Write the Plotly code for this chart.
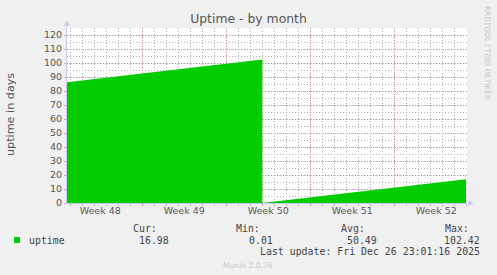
import plotly.graph_objects as go

# ---- data ----
times = ["2025-11-23 17:30", "2025-12-10 00:00", "2025-12-10 00:01",
         "2025-12-10 08:00", "2025-12-26 23:30"]
uptime = [86.2, 102.42, 0.01, 0.3, 16.98]

x_range = ["2025-11-23 17:30", "2025-12-27 01:30"]
week_bounds = ["2025-11-30", "2025-12-07", "2025-12-14", "2025-12-21"]
week_mids = ["2025-11-26 12:00", "2025-12-03 12:00", "2025-12-10 12:00",
             "2025-12-17 12:00", "2025-12-24 12:00"]
week_labels = ["Week 48", "Week 49", "Week 50", "Week 51", "Week 52"]
y_ticks = list(range(0, 121, 10))

stat_names = ["Cur:", "Min:", "Avg:", "Max:"]
stat_values = ["16.98", "0.01", "50.49", "102.42"]
series_name = "uptime"
last_update = "Last update: Fri Dec 26 23:01:16 2025"

# ---- geometry helpers (pixel -> paper) ----
W, H = 497, 275
L, R, T, B = 67, 467, 28, 203
def px(x):
    return (x - L) / (R - L)
def py(y):
    return (B - y) / (B - T)

GREEN = "#00CC00"
MAJ = "rgba(220,80,80,0.45)"
MIN = "#b0b0b0"
AXC = "#c8c8f0"
TXT = "#555555"
DASH = "1px,1px"
DASH_MIN = "1px,2px"

fig = go.Figure()
fig.add_trace(go.Scatter(
    x=times, y=uptime, mode="lines", line=dict(width=0, color=GREEN),
    fill="tozeroy", fillcolor=GREEN, name=series_name, showlegend=False,
    hoverinfo="skip"))
# carrier for the week-label axis (invisible)
fig.add_trace(go.Scatter(
    x=week_mids, y=[0] * len(week_mids), xaxis="x2", mode="markers",
    marker=dict(opacity=0), showlegend=False, hoverinfo="skip"))

fig.update_layout(
    width=W, height=H,
    margin=dict(l=L, r=W - R, t=T, b=H - B, pad=0),
    paper_bgcolor="#F0F0F0", plot_bgcolor="white",
    font=dict(family="DejaVu Sans", size=9.5, color=TXT),
    title=dict(text="Uptime - by month", x=0.5, xanchor="center",
               y=1 - 19 / H, yanchor="middle",
               font=dict(family="DejaVu Sans", size=12.4, color=TXT)),
    xaxis=dict(type="date", range=x_range, tickvals=week_bounds,
               showticklabels=False, showgrid=True, gridcolor=MAJ,
               griddash=DASH, gridwidth=1,
               ticks="outside", ticklen=2, tickcolor=MAJ,
               showline=True, linecolor=AXC, linewidth=1,
               minor=dict(dtick=86400000, tick0="2025-11-23", showgrid=True,
                          gridcolor=MIN, griddash=DASH_MIN, gridwidth=1,
                          ticks="outside", ticklen=2, tickcolor=MIN),
               zeroline=False, fixedrange=True),
    xaxis2=dict(type="date", range=x_range, overlaying="x", anchor="y",
                side="bottom", tickvals=week_mids, ticktext=week_labels,
                showgrid=False, ticks="", showline=False, zeroline=False,
                tickfont=dict(size=9.5, color=TXT)),
    yaxis=dict(range=[0, 125], tickvals=y_ticks, showgrid=True,
               gridcolor=MAJ, griddash=DASH, gridwidth=1,
               ticks="outside", ticklen=2, tickcolor=MAJ,
               showline=True, linecolor=AXC, linewidth=1,
               tickfont=dict(size=9.5, color=TXT),
               minor=dict(dtick=5, showgrid=True, gridcolor=MIN,
                          griddash=DASH_MIN, gridwidth=1),
               zeroline=False, fixedrange=True),
)

ann = []
# y-axis label
ann.append(dict(x=px(10), y=py(115), xref="paper", yref="paper",
                text="uptime in days", textangle=-90, showarrow=False,
                font=dict(family="DejaVu Sans", size=11.2, color=TXT),
                xanchor="center", yanchor="middle"))
# rrdtool vertical credit
ann.append(dict(x=px(488), y=py(53), xref="paper", yref="paper",
                text="RRDTOOL / TOBI OETIKER", textangle=90, showarrow=False,
                font=dict(family="DejaVu Sans", size=7.3, color="#c8c8c8"),
                xanchor="center", yanchor="middle"))
# axis arrows
ann.append(dict(x=px(67), y=py(23), xref="paper", yref="paper", text="▲",
                showarrow=False, font=dict(size=7, color=AXC),
                xanchor="center", yanchor="middle"))
ann.append(dict(x=px(471), y=py(203), xref="paper", yref="paper", text="▶",
                showarrow=False, font=dict(size=7, color=AXC),
                xanchor="center", yanchor="middle"))
MONO = dict(family="DejaVu Sans Mono", size=9.9, color="#444444")
ann.append(dict(x=px(27), y=py(240), xref="paper", yref="paper",
                text=series_name, showarrow=False, font=MONO,
                xanchor="left", yanchor="middle"))
name_right = [159, 262, 367, 471]
val_right = [171, 275, 379, 482]
for n, v, nr, vr in zip(stat_names, stat_values, name_right, val_right):
    ann.append(dict(x=px(nr), y=py(228), xref="paper", yref="paper",
                    text=n, showarrow=False, font=MONO,
                    xanchor="right", yanchor="middle"))
    ann.append(dict(x=px(vr), y=py(240), xref="paper", yref="paper",
                    text=v, showarrow=False, font=MONO,
                    xanchor="right", yanchor="middle"))
ann.append(dict(x=px(482), y=py(251), xref="paper", yref="paper",
                text=last_update, showarrow=False, font=MONO,
                xanchor="right", yanchor="middle"))
ann.append(dict(x=px(248), y=py(265), xref="paper", yref="paper",
                text="Munin 2.0.76", showarrow=False,
                font=dict(family="DejaVu Sans", size=7.6, color="#c8c8c8"),
                xanchor="center", yanchor="middle"))
fig.update_layout(annotations=ann)

fig.add_shape(type="rect", xref="paper", yref="paper",
              x0=px(14), x1=px(20), y0=py(243), y1=py(237),
              fillcolor=GREEN, line=dict(width=0))

fig.write_html("out.html", config=dict(displayModeBar=False, staticPlot=True))
